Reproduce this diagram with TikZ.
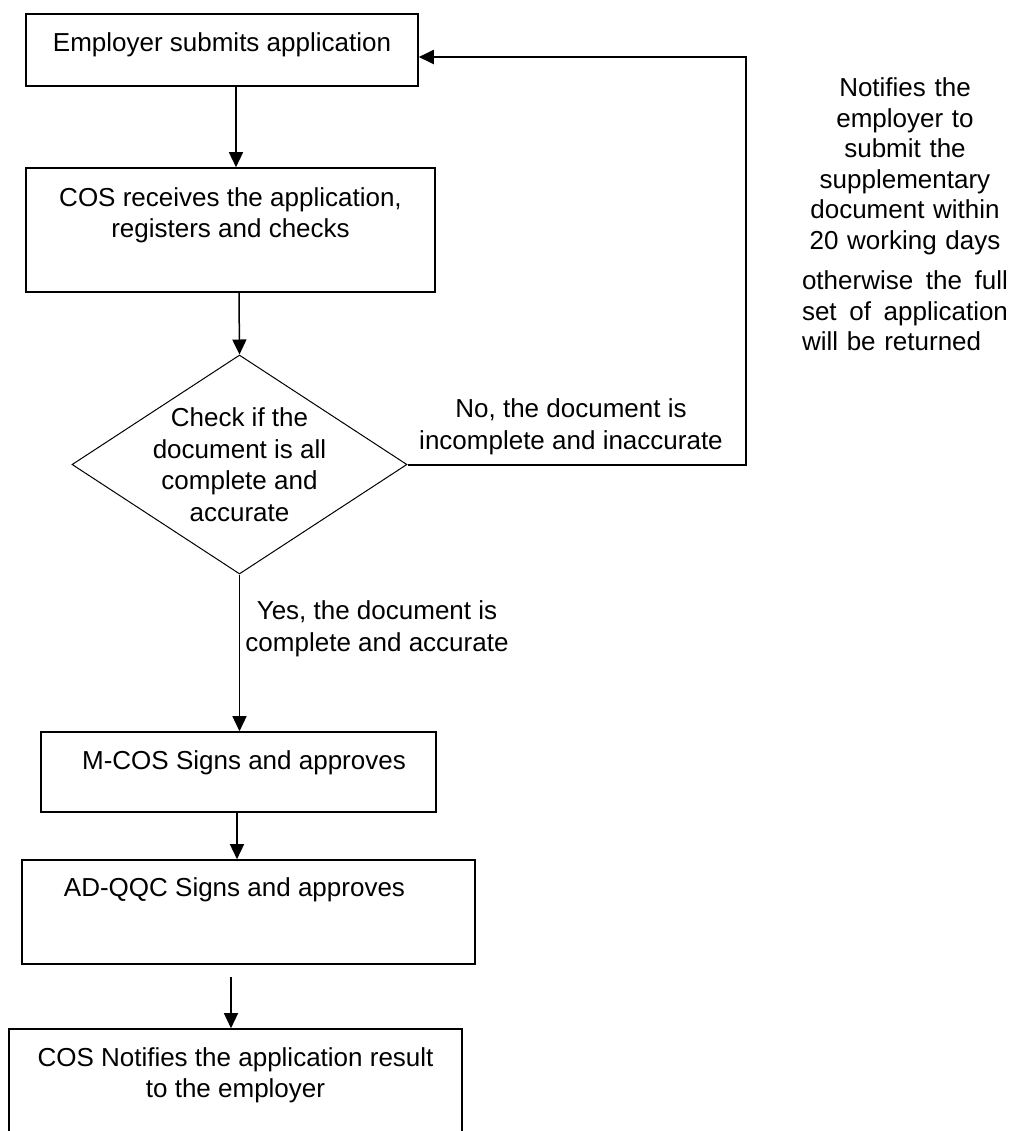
\documentclass[tikz,border=0pt]{standalone}
\usepackage{fontspec}
\setmainfont{Liberation Sans}
\usetikzlibrary{shapes.geometric,arrows.meta}

\begin{document}
\begin{tikzpicture}[x=0.5pt, y=-0.5pt]
        \tikzstyle{every node}=[font=\fontsize{13}{15.75}\selectfont]
        \tikzstyle{stepbox}=[rectangle, draw, line width=0.8pt]
        \tikzstyle{decision}=[diamond, draw, line width=0.5pt, inner sep=0pt]
        \tikzstyle{flow}=[line width=0.75pt, -{Triangle[length=7.5pt,width=7pt]}]

        % Page
        \clip (0,0) rectangle (1019,1131);

        % Nodes
        \node (submit) [stepbox, minimum width=196pt, minimum height=36pt, text height=9.5pt, text depth=8.3pt] at (222,50) {Employer submits application};
        \node (receive) [stepbox, align=center, minimum width=204.5pt, minimum height=62pt] at (230.5,230) {COS receives the application,\\registers and checks\\[-3pt] \strut};
        \node (check) [decision, minimum width=167.5pt, minimum height=109.5pt] at (239.5,464.5) {};
        \node (checktext) [align=center] at (check) {Check if the\\document is all\\complete and\\accurate};
        \node (mcos) [stepbox, minimum width=197.5pt, minimum height=40pt, text height=9.5pt, text depth=12.2pt] at (238.5,772) {\hspace*{5.5pt}M-COS Signs and approves};
        \node (adqqc) [stepbox, minimum width=226.5pt, minimum height=52pt, text height=9.5pt, text depth=25.2pt] at (248.5,912) {AD-QQC Signs and approves\hspace*{14pt}};
        \node (result) [stepbox, align=center, minimum width=226.5pt, minimum height=79.75pt] at (235.5,1108.75) {COS Notifies the application result\\to the employer\\ \strut\\ \strut};

        % Labels
        \node (yeslabel) [align=center] at (377,629) {Yes, the document is\\complete and accurate};
        \node (nolabel) [align=center] at (571,427) {No, the document is\\incomplete and inaccurate};
        \node (notice) [anchor=north, text width=103pt, inner sep=0pt, font=\fontsize{13}{15.25}\selectfont] at (905,77.5) {{\centering Notifies the\\employer to\\submit the\\supplementary\\document within\\20 working days\par}\vspace{5pt}\leftskip=0pt \rightskip=0pt \parfillskip=0pt plus 1fil otherwise\hfill the\hfill full\\set\hfill of\hfill application\\will be returned\par};

        \coordinate (loopback) at (746,57);

        % Edges
        \draw[flow] ([xshift=7pt]submit.south) -- ([xshift=2.75pt]receive.north);
        \draw[flow] ([xshift=4.25pt]receive.south) -- (check.north);
        \draw[flow] (check.south) -- ([xshift=0.5pt]mcos.north);
        \draw[flow] ([xshift=-0.75pt]mcos.south) -- ([xshift=-5.75pt]adqqc.north);
        \draw[flow, shorten <=6pt] ([xshift=-8.75pt]adqqc.south) -- ([xshift=-2.25pt]result.north);
        \draw[flow, line width=1pt] (check.east) -| (loopback) -- ([yshift=-3.5pt]submit.east);

\end{tikzpicture}
\end{document}
